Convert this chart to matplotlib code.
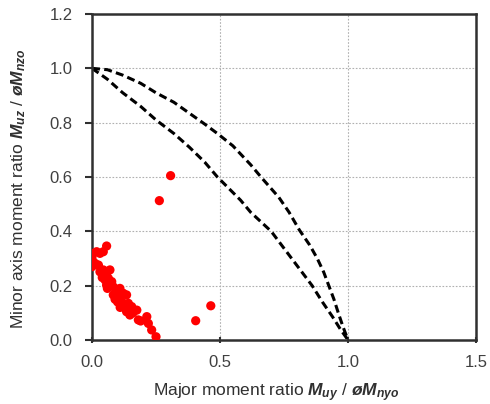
import matplotlib
matplotlib.use("Agg")
import matplotlib.pyplot as plt

# ==========================================
# DATA
# ==========================================
# outer interaction curve
outer_x = [0.0, 0.06, 0.12, 0.19, 0.25, 0.32, 0.38, 0.44, 0.49, 0.55, 0.62, 0.66,
           0.73, 0.77, 0.81, 0.85, 0.88, 0.905, 0.925, 0.945, 0.962, 0.98, 1.0]
outer_y = [1.0, 0.995, 0.975, 0.945, 0.91, 0.875, 0.835, 0.795, 0.76, 0.715, 0.645, 0.60,
           0.525, 0.47, 0.405, 0.35, 0.30, 0.25, 0.20, 0.15, 0.10, 0.05, 0.0]

# inner interaction curve
inner_x = [0.0, 0.06, 0.12, 0.19, 0.25, 0.32, 0.38, 0.44, 0.49, 0.58, 0.62, 0.70,
           0.78, 0.86, 0.90, 0.94, 0.97, 1.0]
inner_y = [1.0, 0.96, 0.91, 0.86, 0.81, 0.76, 0.71, 0.655, 0.60, 0.515, 0.47, 0.40,
           0.30, 0.20, 0.14, 0.085, 0.04, 0.0]

# test results
test_x = [0.000, 0.005, 0.018, 0.031, 0.044, 0.057, 0.012, 0.000, 0.025, 0.031,
          0.044, 0.057, 0.070, 0.051, 0.064, 0.077, 0.057, 0.083, 0.096, 0.109,
          0.083, 0.103, 0.122, 0.135, 0.116, 0.129, 0.142, 0.155, 0.175, 0.148,
          0.135, 0.181, 0.214, 0.220, 0.233, 0.250, 0.040, 0.060, 0.090, 0.110,
          0.160, 0.190, 0.000, 0.070, 0.100,
          0.307, 0.263, 0.464, 0.405]
test_y = [0.300, 0.319, 0.325, 0.319, 0.325, 0.346, 0.282, 0.270, 0.276, 0.251,
          0.258, 0.245, 0.258, 0.221, 0.227, 0.215, 0.202, 0.196, 0.184, 0.190,
          0.166, 0.159, 0.172, 0.166, 0.141, 0.123, 0.135, 0.123, 0.110, 0.092,
          0.104, 0.074, 0.086, 0.061, 0.037, 0.012, 0.230, 0.190, 0.150, 0.120,
          0.100, 0.070, 0.290, 0.210, 0.140,
          0.605, 0.513, 0.126, 0.071]

x_ticks = [0.0, 0.5, 1.0, 1.5]
y_ticks = [0.0, 0.2, 0.4, 0.6, 0.8, 1.0, 1.2]

# ==========================================
# PLOT
# ==========================================
plt.rcParams["font.family"] = ["Liberation Sans", "DejaVu Sans"]
plt.rcParams["mathtext.fontset"] = "custom"
plt.rcParams["mathtext.it"] = "Liberation Sans:italic:bold"
plt.rcParams["mathtext.rm"] = "Liberation Sans:italic:bold"

fig = plt.figure(figsize=(4.9, 4.04), dpi=100)
ax = fig.add_axes([0.1878, 0.1584, 0.7836, 0.8069])

ax.plot(outer_x, outer_y, color="black", lw=2.2, ls=(0, (2.6, 1.4)))
ax.plot(inner_x, inner_y, color="black", lw=2.2, ls=(0, (2.6, 1.4)))
ax.scatter(test_x, test_y, s=44, color="red", edgecolors="none", zorder=3)

ax.set_xlim(0, 1.5)
ax.set_ylim(0, 1.2)
ax.set_xticks(x_ticks)
ax.set_yticks(y_ticks)
ax.set_xticklabels([f"{v:.1f}" for v in x_ticks])
ax.set_yticklabels([f"{v:.1f}" for v in y_ticks])
ax.grid(True, color="#b0b0b0", ls=(0, (1.5, 1.5)), lw=0.8)
ax.set_axisbelow(True)

for s in ax.spines.values():
    s.set_color("#303030")
    s.set_linewidth(1.8)
ax.tick_params(axis="y", direction="out", length=5, width=1.5, color="#303030",
               labelsize=12, labelcolor="#404040", pad=9)
ax.tick_params(axis="x", direction="inout", length=5, width=1.5, color="#303030",
               labelsize=12, labelcolor="#404040", pad=8)

ax.set_xlabel(r"Major moment ratio $M_{uy}$ / $øM_{nyo}$", fontsize=12.5,
              color="#303030", va="top")
ax.xaxis.set_label_coords(0.48, -0.128)
ax.set_ylabel(r"Minor axis moment ratio $M_{uz}$ / $øM_{nzo}$", fontsize=12.5,
              color="#303030")
ax.yaxis.set_label_coords(-0.168, 0.465)

fig.savefig("out.png", dpi=100)
